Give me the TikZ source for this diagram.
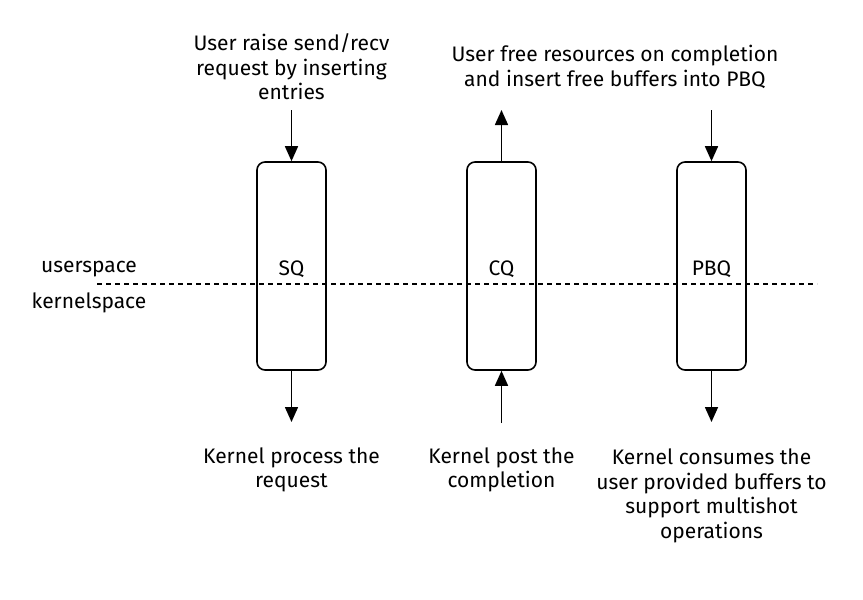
\documentclass[tikz,border=0pt]{standalone}
\usepackage{fontspec}
\setmainfont{Fira Sans}
\usetikzlibrary{arrows.meta}
\begin{document}
\begin{tikzpicture}[x=1pt,y=-1pt,
  queue/.style={draw,line width=1.6pt,rounded corners=8pt,minimum width=69pt,minimum height=208pt,inner sep=0pt},
  arr/.style={line width=1.6pt,-{Triangle[length=15pt,width=13pt]}},
  lbl/.style={align=center,font=\fontsize{21}{24.5}\selectfont,inner sep=0pt},
  every node/.style={font=\fontsize{21}{24.5}\selectfont}]
\useasboundingbox (0,0) rectangle (863,600);
\node[queue] (sq) at (291.5,266) {};
\node[queue] (cq) at (501.5,266) {};
\node[queue] (pbq) at (711.5,266) {};
\node (sqt) at (291.5,269) {SQ};
\node (cqt) at (501.5,269) {CQ};
\node (pbqt) at (711.5,269) {PBQ};
\coordinate (dl) at (97,284);
\coordinate (dr) at (817,284);
\draw[line width=1.3pt,dash pattern=on 5pt off 4pt] (dl) -- (dr);
\node[lbl] (us) at (89,269) {userspace};
\node[lbl] (ks) at (89,303) {kernelspace};
\node[lbl] (t1) at (291.5,67) {User raise send/recv\\request by inserting\\entries};
\node[lbl] (t2) at (615,67) {User free resources on completion\\and insert free buffers into PBQ};
\node[lbl] (b1) at (291.5,470) {Kernel process the\\request};
\node[lbl] (b2) at (501.5,470) {Kernel post the\\completion};
\node[lbl] (b3) at (711.5,496) {Kernel consumes the\\user provided buffers to\\support multishot\\operations};
\coordinate (a1) at (291.5,110);
\coordinate (a2) at (291.5,422);
\coordinate (c1) at (501.5,110);
\coordinate (c2) at (501.5,423);
\coordinate (p1) at (711.5,110);
\coordinate (p2) at (711.5,422);
\draw[arr] (a1) -- (sq.north);
\draw[arr] (sq.south) -- (a2);
\draw[arr] (cq.north) -- (c1);
\draw[arr] (c2) -- (cq.south);
\draw[arr] (p1) -- (pbq.north);
\draw[arr] (pbq.south) -- (p2);
\end{tikzpicture}
\end{document}
